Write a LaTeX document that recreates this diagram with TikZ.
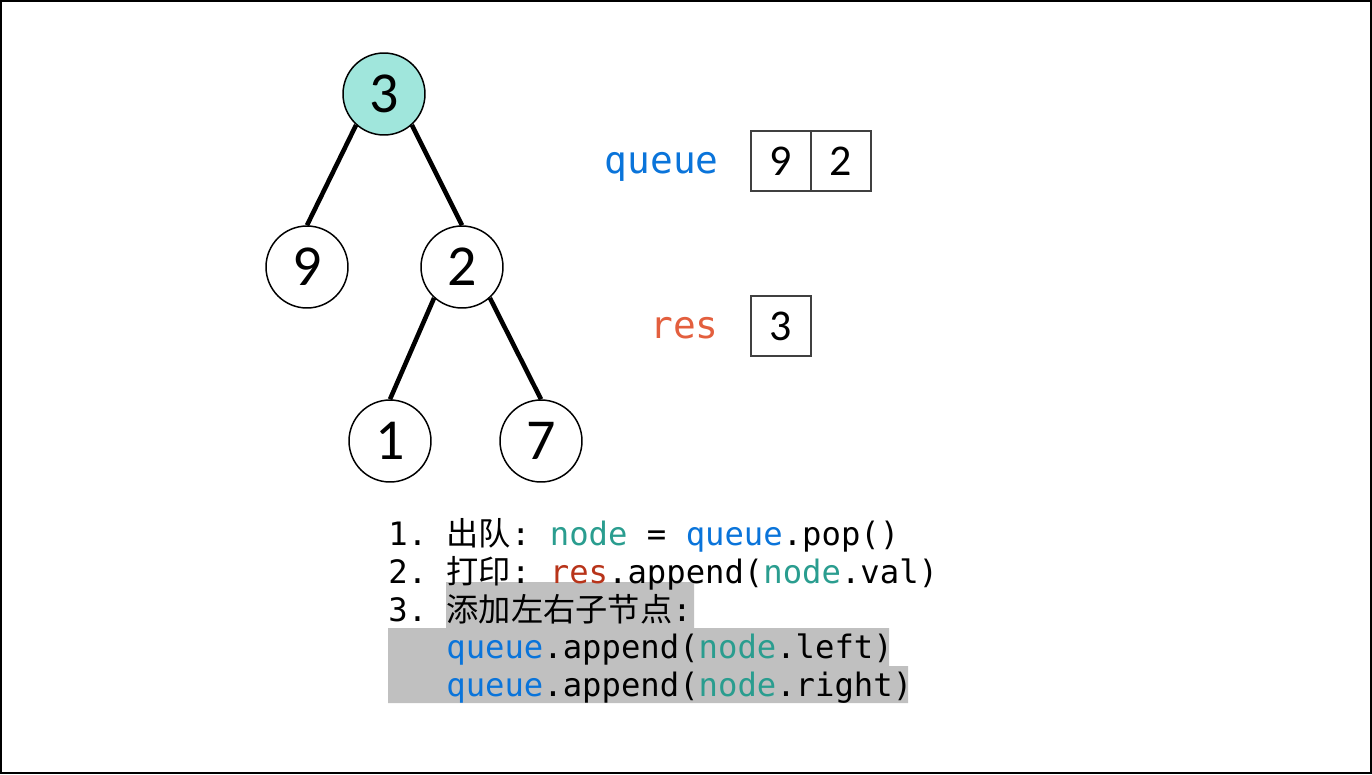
\documentclass[tikz,border=0pt]{standalone}
\usepackage{fontspec}
\setmonofont{DejaVu Sans Mono}
\newfontfamily\cjk{Noto Sans CJK SC}
\newfontfamily\digitfont{Carlito}
\usetikzlibrary{positioning}
\definecolor{mint}{HTML}{A0E6DC}
\definecolor{qblue}{HTML}{0A74DA}
\definecolor{resred}{HTML}{E35F3E}
\definecolor{codered}{HTML}{B8341A}
\definecolor{nodeteal}{HTML}{2A9D8F}
\definecolor{hilite}{HTML}{C0C0C0}
\definecolor{cellgray}{HTML}{404040}
\tikzset{
  treenode/.style={circle,draw,line width=0.85pt,minimum size=1.64cm,inner sep=0pt,
    font=\digitfont\fontsize{33}{36}\selectfont},
  treeedge/.style={line width=2.6pt},
  cell/.style={draw=cellgray,line width=1.1pt,minimum size=1.2cm,inner sep=0pt,
    font=\digitfont\fontsize{25}{30}\selectfont},
  codeline/.style={anchor=base west,inner sep=0pt,font=\ttfamily\fontsize{18.35}{21}\selectfont},
  arrlabel/.style={anchor=base east,inner sep=0pt,font=\ttfamily\fontsize{21.5}{24}\selectfont}
}
\begin{document}
\begin{tikzpicture}[x=0.02cm,y=-0.02cm]
        \useasboundingbox (0,0) rectangle (1372,774);
        \draw[line width=1.2pt] (1,1) rectangle (1371,773);
        \node[treenode,fill=mint] (n3) at (384,94) {3};
        \node[treenode] (n9) at (307,267) {9};
        \node[treenode] (n2) at (462,267) {2};
        \node[treenode] (n1) at (390,441) {1};
        \node[treenode] (n7) at (541,441) {7};
        \draw[treeedge] (n3.228) -- (n9.north);
        \draw[treeedge] (n3.312) -- (n2.north);
        \draw[treeedge] (n2.228) -- (n1.north);
        \draw[treeedge] (n2.312) -- (n7.north);
        \node[arrlabel,text=qblue] (qlabel) at (719,173) {queue};
        \node[cell] (q9) at (781,161) {9};
        \node[cell] (q2) at (841,161) {2};
        \node[arrlabel,text=resred] (rlabel) at (719,338) {res};
        \node[cell] (r3) at (781,326) {3};
        \fill[hilite] (446,582) -- (694,582) -- (694,628) -- (889,628) -- (889,666)
          -- (908,666) -- (908,703) -- (388,703) -- (388,628) -- (446,628) -- cycle;
        \node[codeline] (step1) at (388,545) {1.~{\cjk 出队}:~\textcolor{nodeteal}{node}~=~\textcolor{qblue}{queue}.pop()};
        \node[codeline] (step2) at (388,583) {2.~{\cjk 打印}:~\textcolor{codered}{res}.append(\textcolor{nodeteal}{node}.val)};
        \node[codeline] (step3) at (388,621) {3.~{\cjk 添加左右子节点}:};
        \node[codeline] (step4) at (446,658) {\textcolor{qblue}{queue}.append(\textcolor{nodeteal}{node}.left)};
        \node[codeline] (step5) at (446,696) {\textcolor{qblue}{queue}.append(\textcolor{nodeteal}{node}.right)};
      \end{tikzpicture}
\end{document}
